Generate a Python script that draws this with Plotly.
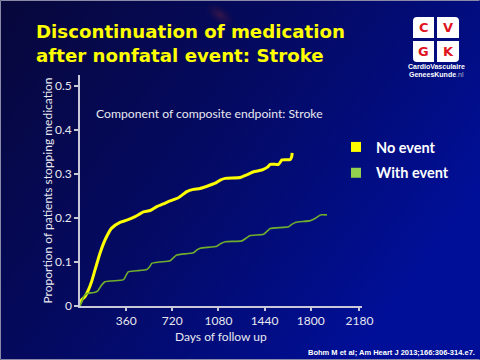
import base64
import plotly.graph_objects as go

# ---- data ----
no_event_days = [0, 13, 40, 65, 90, 117, 156, 195, 247, 312, 365, 430, 495, 547, 599, 650, 703,
                 768, 833, 885, 937, 1016, 1060, 1094, 1133, 1250, 1300, 1354, 1419, 1460, 1484,
                 1549, 1565, 1576, 1641, 1652, 1655]
no_event_vals = [0.005, 0.014, 0.022, 0.036, 0.055, 0.082, 0.12, 0.15, 0.177, 0.19, 0.195, 0.203,
                 0.214, 0.217, 0.226, 0.232, 0.239, 0.246, 0.26, 0.265, 0.267, 0.275, 0.28, 0.286,
                 0.29, 0.292, 0.298, 0.305, 0.309, 0.315, 0.322, 0.322, 0.328, 0.332, 0.333, 0.34,
                 0.348]
with_event_days = [0, 13, 30, 50, 91, 117, 140, 170, 195, 250, 340, 360, 378, 440, 521, 545, 560,
                   620, 703, 730, 755, 885, 910, 937, 1068, 1100, 1133, 1263, 1300, 1328, 1432,
                   1460, 1484, 1628, 1655, 1680, 1797, 1840, 1875, 1927]
with_event_vals = [0.0, 0.01, 0.022, 0.028, 0.03, 0.031, 0.035, 0.048, 0.055, 0.057, 0.06, 0.07,
                   0.078, 0.08, 0.083, 0.09, 0.097, 0.1, 0.103, 0.11, 0.116, 0.121, 0.127, 0.131,
                   0.136, 0.142, 0.146, 0.148, 0.155, 0.16, 0.163, 0.17, 0.176, 0.18, 0.186, 0.19,
                   0.194, 0.2, 0.207, 0.207]
series_names = ["No event", "With event"]
x_ticks = [360, 720, 1080, 1440, 1800, 2180]
y_ticks = [0, 0.1, 0.2, 0.3, 0.4, 0.5]
y_tick_labels = ["0", "0.1", "0.2", "0.3", "0.4", "0.5"]
title_text = "Discontinuation of medication<br>after nonfatal event: Stroke"
subtitle_text = "Component of composite endpoint: Stroke"
x_title = "Days of follow up"
y_title = "Proportion of patients stopping medication"
citation = "Bohm M et al; Am Heart J 2013;166:306-314.e7."

W, H = 480, 360
ML, MR, MT, MB = 80, 118, 75, 54
PW, PH = W - ML - MR, H - MT - MB


def px(x):
    return (x - ML) / PW


def py(y):
    return (H - MB - y) / PH


YELLOW = "#ffff00"
GREEN_LINE = "#6fae2c"
GREEN_LEG = "#92d050"
AXIS = "#c8c8d8"
TXT = "#e8e8f0"

fig = go.Figure()
fig.add_trace(go.Scatter(x=no_event_days, y=no_event_vals, mode="lines",
                         line=dict(color=YELLOW, width=3, shape="spline", smoothing=0.5),
                         showlegend=False, name=series_names[0]))
fig.add_trace(go.Scatter(x=with_event_days, y=with_event_vals, mode="lines",
                         line=dict(color=GREEN_LINE, width=1.6, shape="spline", smoothing=0.5),
                         showlegend=False, name=series_names[1]))
# legend entries (square swatches)
for nm, col, grp in [(series_names[0], YELLOW, "a"), (series_names[1], GREEN_LEG, "b")]:
    fig.add_trace(go.Scatter(x=[None], y=[None], mode="markers", name=nm, legendgroup=grp,
                             marker=dict(symbol="square", size=10, color=col,
                                         line=dict(width=0))))

# background gradient
svg = ("<svg xmlns='http://www.w3.org/2000/svg' width='480' height='360' preserveAspectRatio='none'>"
       "<defs><linearGradient id='g' x1='0' y1='0' x2='1' y2='0.55'>"
       "<stop offset='0' stop-color='#07073a'/><stop offset='0.5' stop-color='#040a62'/>"
       "<stop offset='1' stop-color='#000f98'/></linearGradient>"
       "<radialGradient id='r' cx='0.5' cy='0.5' r='0.5'>"
       "<stop offset='0' stop-color='#4a1a44' stop-opacity='0.7'/>"
       "<stop offset='1' stop-color='#2a1040' stop-opacity='0'/></radialGradient></defs>"
       "<rect width='480' height='360' fill='url(#g)'/>"
       "<ellipse cx='220' cy='15' rx='17' ry='9' transform='rotate(35 220 15)' fill='url(#r)'/>"
       "</svg>")
uri = "data:image/svg+xml;base64," + base64.b64encode(svg.encode()).decode()
fig.add_layout_image(dict(source=uri, xref="paper", yref="paper", x=px(0), y=py(0),
                          sizex=W / PW, sizey=H / PH, sizing="stretch", layer="below",
                          xanchor="left", yanchor="top"))

shapes = []
# border lines
for (x0, y0, x1, y1) in [(0.5, 0.5, 479.5, 0.5), (0.5, 0.5, 0.5, 359.5), (0.5, 359.5, 479.5, 359.5)]:
    shapes.append(dict(type="line", xref="paper", yref="paper", x0=px(x0), y0=py(y0),
                       x1=px(x1), y1=py(y1), line=dict(color="#8a8aa8", width=1)))


# logo tiles with one rounded outer corner
def tile(x0, y0, x1, y1, corner, r=4):
    pts = {
        "tl": f"M{px(x0)},{py(y0 + r)} Q{px(x0)},{py(y0)} {px(x0 + r)},{py(y0)} L{px(x1)},{py(y0)} L{px(x1)},{py(y1)} L{px(x0)},{py(y1)} Z",
        "tr": f"M{px(x0)},{py(y0)} L{px(x1 - r)},{py(y0)} Q{px(x1)},{py(y0)} {px(x1)},{py(y0 + r)} L{px(x1)},{py(y1)} L{px(x0)},{py(y1)} Z",
        "bl": f"M{px(x0)},{py(y0)} L{px(x1)},{py(y0)} L{px(x1)},{py(y1)} L{px(x0 + r)},{py(y1)} Q{px(x0)},{py(y1)} {px(x0)},{py(y1 - r)} Z",
        "br": f"M{px(x0)},{py(y0)} L{px(x1)},{py(y0)} L{px(x1)},{py(y1 - r)} Q{px(x1)},{py(y1)} {px(x1 - r)},{py(y1)} L{px(x0)},{py(y1)} Z",
    }
    return dict(type="path", xref="paper", yref="paper", path=pts[corner],
                fillcolor="white", line=dict(width=0))


tiles = [(413, 17, 434, 38, "tl", "C"), (437, 17, 459, 38, "tr", "V"),
         (413, 41, 434, 62, "bl", "G"), (437, 41, 459, 62, "br", "K")]
annotations = []
for x0, y0, x1, y1, c, letter in tiles:
    shapes.append(tile(x0, y0, x1, y1, c))
    annotations.append(dict(x=px((x0 + x1) / 2), y=py((y0 + y1) / 2 + 0.5), xref="paper",
                            yref="paper", text=f"<b>{letter}</b>", showarrow=False,
                            font=dict(family="DejaVu Sans", size=13, color="#e0141e"),
                            xanchor="center", yanchor="middle"))
annotations.append(dict(x=px(436), y=py(66), xref="paper", yref="paper",
                        text="<b>CardioVasculaire</b>", showarrow=False,
                        font=dict(family="Liberation Sans Narrow, Liberation Sans", size=7, color="white"),
                        xanchor="center", yanchor="middle"))
annotations.append(dict(x=px(436), y=py(74), xref="paper", yref="paper",
                        text="<b>GeneesKunde</b><span style='color:#b8b8c8'>.nl</span>",
                        showarrow=False,
                        font=dict(family="Liberation Sans Narrow, Liberation Sans", size=7, color="white"),
                        xanchor="center", yanchor="middle"))
# title
annotations.append(dict(x=px(34), y=py(19), xref="paper", yref="paper", text=f"<b>{title_text}</b>",
                        showarrow=False, align="left",
                        font=dict(family="DejaVu Sans", size=18.2, color=YELLOW),
                        xanchor="left", yanchor="top"))
# subtitle inside plot
annotations.append(dict(x=px(94), y=py(114), xref="paper", yref="paper", text=subtitle_text,
                        showarrow=False, font=dict(family="Lato", size=12.2, color=TXT),
                        xanchor="left", yanchor="middle"))
# x axis title (placed tighter than plotly's minimum standoff)
annotations.append(dict(x=0.5, y=py(327), xref="paper", yref="paper", text=x_title,
                        showarrow=False, font=dict(family="Lato", size=12, color=TXT),
                        xanchor="center", yanchor="top"))
# citation
annotations.append(dict(x=px(477), y=py(352), xref="paper", yref="paper", text=f"<b>{citation}</b>",
                        showarrow=False,
                        font=dict(family="Liberation Sans Narrow, Liberation Sans", size=7.5, color="white"),
                        xanchor="right", yanchor="middle"))

fig.update_layout(
    width=W, height=H, margin=dict(l=ML, r=MR, t=MT, b=MB, autoexpand=False),
    paper_bgcolor="#050850", plot_bgcolor="rgba(0,0,0,0)",
    shapes=shapes, annotations=annotations,
    showlegend=True,
    legend=dict(x=px(336), y=py(131), xanchor="left", yanchor="top", xref="paper", yref="paper",
                bgcolor="rgba(0,0,0,0)", font=dict(family="Lato", size=14.5, color="white", weight="bold"),
                itemwidth=30, tracegroupgap=4, traceorder="grouped"),
    xaxis=dict(range=[0, 2200], tickvals=x_ticks, showgrid=False, zeroline=False, automargin=False,
               showline=True, linecolor=AXIS, linewidth=1.5, ticks="outside", ticklen=3,
               tickcolor=AXIS, tickwidth=1.5,
               tickfont=dict(family="Lato", size=12, color=TXT)),
    yaxis=dict(range=[0, 0.525], tickvals=y_ticks, ticktext=y_tick_labels, showgrid=False,
               zeroline=False, showline=True, linecolor=AXIS, linewidth=1.5, ticks="outside",
               ticklen=4, tickcolor=AXIS, tickwidth=1.5, automargin=False,
               tickfont=dict(family="Lato", size=12, color=TXT),
               title=dict(text=y_title, font=dict(family="Lato", size=12, color=TXT), standoff=0)),
)

fig.write_html("out.html", config={"displayModeBar": False},
               post_script="document.body.style.margin='0';document.body.style.overflow='hidden';")
